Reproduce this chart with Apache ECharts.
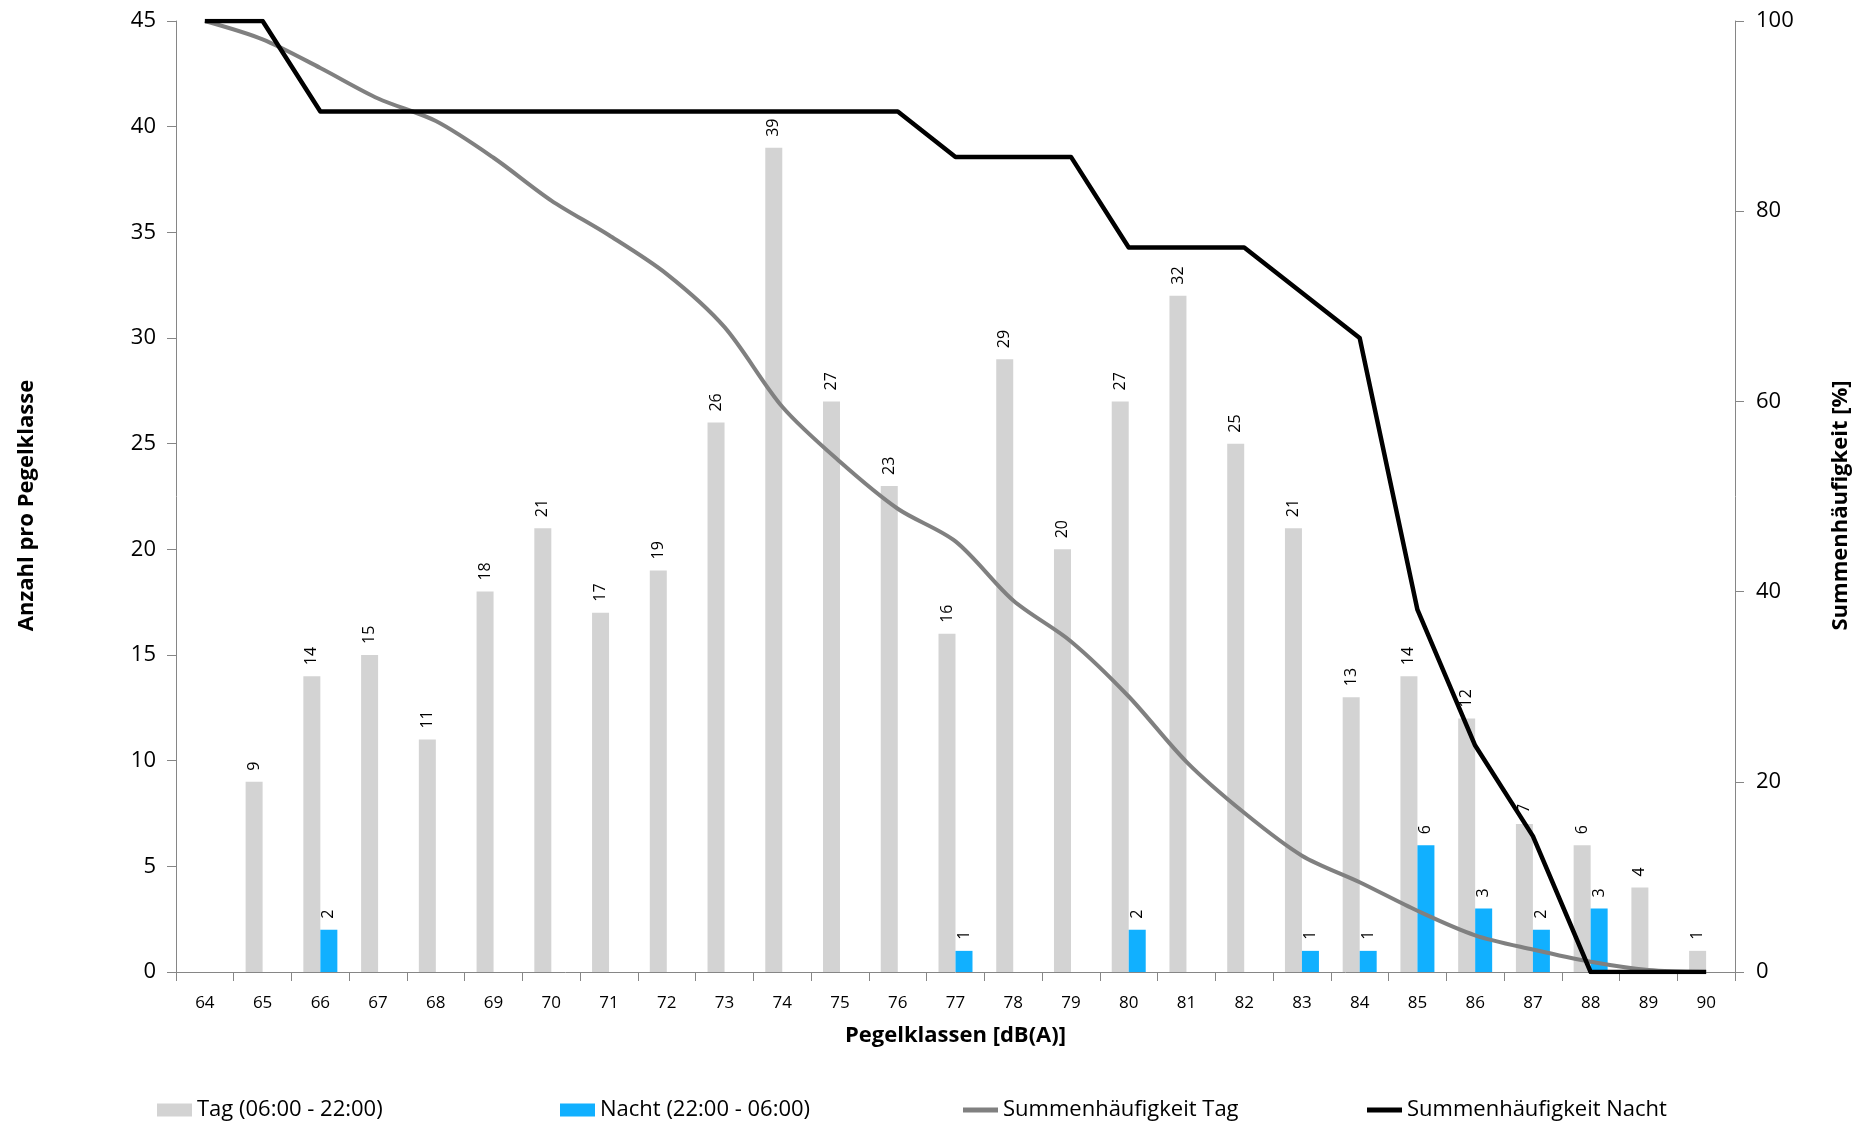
<!DOCTYPE html>
<html>
<head>
<meta charset="utf-8">
<script src="https://cdn.jsdelivr.net/npm/echarts@6/dist/echarts.min.js"></script>
<style>
html,body{margin:0;padding:0;background:#fff;}
#c{width:1860px;height:1123px;}
</style>
</head>
<body>
<div id="c"></div>
<script>
const categories = ['64','65','66','67','68','69','70','71','72','73','74','75','76','77','78','79','80','81','82','83','84','85','86','87','88','89','90'];
const tagCounts = [0,9,14,15,11,18,21,17,19,26,39,27,23,16,29,20,27,32,25,21,13,14,12,7,6,4,1];
const nachtCounts = [0,0,2,0,0,0,0,0,0,0,0,0,0,1,0,0,2,0,0,1,1,6,3,2,3,0,0];
const sumTag = [100,98.07,95.06,91.85,89.48,85.62,81.12,77.47,73.39,67.81,59.44,53.65,48.71,45.28,39.06,34.76,28.97,22.10,16.74,12.23,9.44,6.44,3.86,2.36,1.07,0.21,0];
const sumNacht = [100,100,90.48,90.48,90.48,90.48,90.48,90.48,90.48,90.48,90.48,90.48,90.48,85.71,85.71,85.71,76.19,76.19,76.19,71.43,66.67,38.10,23.81,14.29,0,0,0];
const seriesNames = ['Tag (06:00 - 22:00)','Nacht (22:00 - 06:00)','Summenhäufigkeit Tag','Summenhäufigkeit Nacht'];

const FONT = '"Open Sans", sans-serif';
const AX = '#868686';
const chart = echarts.init(document.getElementById('c'), null, {renderer:'canvas'});

const barLabel = {
  show: true, position: 'top', rotate: 90, align: 'left', verticalAlign: 'middle',
  distance: 11, fontSize: 16, color: '#000', fontFamily: FONT,
  formatter: p => (p.value ? String(p.value) : '')
};

function legendAt(left, name, isLine) {
  return {
    left: left, top: 1099, padding: 0, data: [name], icon: 'rect',
    itemWidth: 35, itemHeight: isLine ? 5 : 13, itemGap: 6,
    textStyle: {fontSize: 22, color: '#000', fontFamily: FONT},
    selectedMode: false
  };
}

const titleStyle = {fontSize: 22, fontWeight: 'bold', color: '#000', fontFamily: FONT};

chart.setOption({
  animation: false,
  backgroundColor: '#fff',
  textStyle: {fontFamily: FONT},
  grid: {left: 176, right: 114, top: 21, bottom: 151},
  legend: [
    legendAt(157, seriesNames[0], false),
    legendAt(560, seriesNames[1], false),
    legendAt(963, seriesNames[2], true),
    legendAt(1367, seriesNames[3], true)
  ],
  xAxis: {
    type: 'category', data: categories, boundaryGap: true,
    name: 'Pegelklassen [dB(A)]', nameLocation: 'middle', nameGap: 53,
    nameTextStyle: titleStyle,
    axisLine: {show: true, lineStyle: {color: AX, width: 1}},
    axisTick: {show: true, interval: 0, length: 9, lineStyle: {color: AX}},
    axisLabel: {interval: 0, fontSize: 17, color: '#000', margin: 23, fontFamily: FONT},
    splitLine: {show: false}
  },
  yAxis: [
    {
      type: 'value', min: 0, max: 45, interval: 5, position: 'left',
      name: 'Anzahl pro Pegelklasse', nameLocation: 'middle', nameRotate: 90, nameGap: 138,
      nameTextStyle: Object.assign({padding: [0, 18, 0, 0]}, titleStyle),
      axisLine: {show: true, lineStyle: {color: AX, width: 1}},
      axisTick: {show: true, length: 9, lineStyle: {color: AX}},
      axisLabel: {fontSize: 22, color: '#000', margin: 20, fontFamily: FONT},
      splitLine: {show: false}
    },
    {
      type: 'value', min: 0, max: 100, interval: 20, position: 'right',
      name: 'Summenhäufigkeit [%]', nameLocation: 'middle', nameRotate: 90, nameGap: 95,
      nameTextStyle: Object.assign({padding: [0, 18, 0, 0]}, titleStyle),
      axisLine: {show: true, lineStyle: {color: AX, width: 1}},
      axisTick: {show: true, length: 9, lineStyle: {color: AX}},
      axisLabel: {fontSize: 22, color: '#000', margin: 21, fontFamily: FONT},
      splitLine: {show: false}
    }
  ],
  series: [
    {
      name: seriesNames[0], type: 'bar', yAxisIndex: 0, data: tagCounts,
      barWidth: 17, barGap: '0%', itemStyle: {color: '#d3d3d3'}, label: barLabel, z: 2
    },
    {
      name: seriesNames[1], type: 'bar', yAxisIndex: 0, data: nachtCounts,
      barWidth: 17, barGap: '0%', itemStyle: {color: '#11b0ff'}, label: barLabel, z: 2
    },
    {
      name: seriesNames[2], type: 'line', yAxisIndex: 1, data: sumTag,
      smooth: 0.3, symbol: 'none', showSymbol: false,
      lineStyle: {color: '#808080', width: 4}, itemStyle: {color: '#808080'}, z: 3
    },
    {
      name: seriesNames[3], type: 'line', yAxisIndex: 1, data: sumNacht,
      smooth: false, symbol: 'none', showSymbol: false,
      lineStyle: {color: '#000000', width: 4.5, join: 'round'}, itemStyle: {color: '#000000'}, z: 4
    }
  ]
});
</script>
</body>
</html>
